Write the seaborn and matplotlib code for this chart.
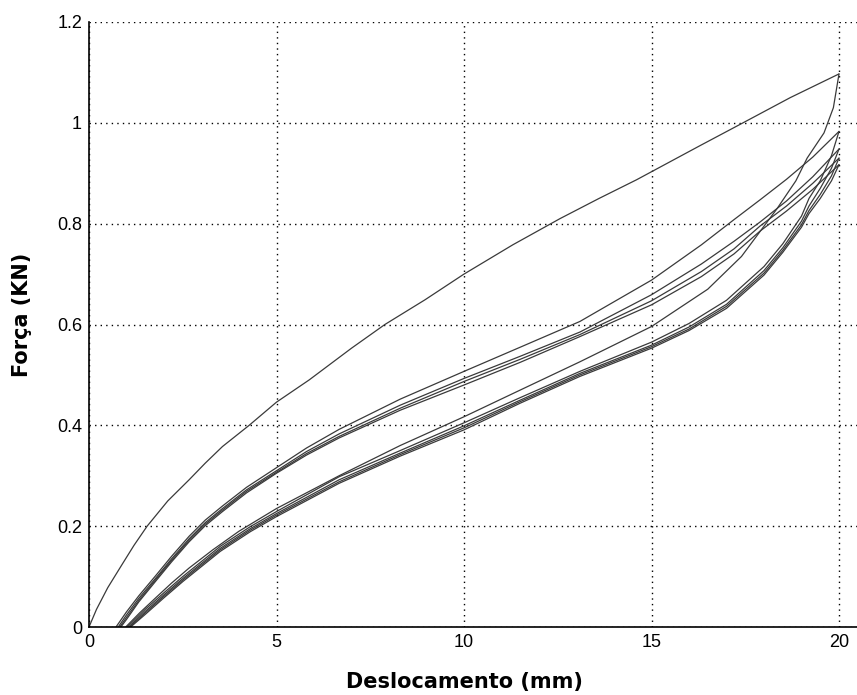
import numpy as np
import pandas as pd
import matplotlib
matplotlib.use("Agg")
import matplotlib.pyplot as plt
import seaborn as sns

# ---- data ----
# virgin loading
L1_x = [0, 0.2, 0.5, 0.89, 1.2, 1.55, 2.1, 2.67, 3.1, 3.56, 4.27, 5.0, 5.87, 7.0, 7.89, 8.96, 10.0, 11.3, 12.56, 13.6, 14.6, 16.3, 17.44, 18.7, 20.0]
L1_y = [0, 0.035, 0.078, 0.125, 0.162, 0.2, 0.25, 0.292, 0.325, 0.358, 0.4, 0.446, 0.49, 0.553, 0.6, 0.649, 0.70, 0.758, 0.81, 0.85, 0.887, 0.955, 1.0, 1.05, 1.097]

# first unloading
U1_x = [20.0, 19.85, 19.6, 19.15, 18.85, 18.35, 18.0, 17.4, 16.5, 15.0, 13.09, 11.5, 10.0, 8.3, 6.67, 5.0, 4.0, 3.3, 2.67, 2.2, 1.78, 1.35, 0.98]
U1_y = [1.097, 1.03, 0.98, 0.93, 0.885, 0.83, 0.795, 0.735, 0.67, 0.596, 0.526, 0.47, 0.417, 0.36, 0.30, 0.235, 0.19, 0.153, 0.117, 0.087, 0.058, 0.028, 0]

# reloading branches
R_x_mid = [1.0, 1.33, 1.78, 2.2, 2.67, 3.1, 3.56, 4.2, 5.0, 5.8, 6.67, 8.3, 10.0, 11.5, 13.09, 15.0, 16.33, 17.2, 17.89, 18.6, 19.3, 20.0]
R_start = [0.72, 0.78, 0.82, 0.85]
L2_y = [0.030, 0.062, 0.102, 0.140, 0.180, 0.212, 0.240, 0.277, 0.316, 0.355, 0.392, 0.452, 0.507, 0.555, 0.606, 0.688, 0.758, 0.808, 0.847, 0.888, 0.932, 0.983]
L3_y = [0.024, 0.057, 0.097, 0.135, 0.175, 0.207, 0.235, 0.272, 0.310, 0.348, 0.383, 0.440, 0.493, 0.537, 0.585, 0.659, 0.720, 0.765, 0.803, 0.845, 0.893, 0.948]
L4_y = [0.019, 0.053, 0.094, 0.132, 0.172, 0.204, 0.232, 0.269, 0.307, 0.344, 0.378, 0.434, 0.487, 0.531, 0.580, 0.647, 0.705, 0.750, 0.795, 0.835, 0.880, 0.930]
L5_y = [0.015, 0.050, 0.091, 0.129, 0.169, 0.201, 0.229, 0.266, 0.305, 0.341, 0.375, 0.430, 0.480, 0.525, 0.576, 0.639, 0.695, 0.740, 0.785, 0.825, 0.868, 0.917]

# later unloading branches
D_x_mid = [20.0, 19.8, 19.5, 19.2, 19.0, 18.5, 18.0, 17.0, 16.0, 15.0, 13.09, 11.5, 10.0, 8.3, 6.67, 5.0, 4.3, 3.5, 3.0, 2.5, 2.0, 1.5]
D_end = [1.02, 1.06, 1.09, 1.11]
U2_y = [0.983, 0.935, 0.885, 0.850, 0.815, 0.760, 0.715, 0.648, 0.602, 0.565, 0.507, 0.455, 0.405, 0.350, 0.298, 0.229, 0.199, 0.160, 0.130, 0.100, 0.068, 0.035]
U3_y = [0.948, 0.910, 0.870, 0.835, 0.805, 0.752, 0.707, 0.640, 0.595, 0.559, 0.503, 0.450, 0.399, 0.345, 0.292, 0.225, 0.195, 0.156, 0.126, 0.096, 0.064, 0.031]
U4_y = [0.930, 0.895, 0.858, 0.826, 0.798, 0.747, 0.702, 0.636, 0.591, 0.556, 0.500, 0.447, 0.395, 0.342, 0.288, 0.222, 0.192, 0.153, 0.123, 0.093, 0.061, 0.028]
U5_y = [0.917, 0.885, 0.850, 0.820, 0.793, 0.743, 0.698, 0.632, 0.588, 0.553, 0.497, 0.444, 0.391, 0.339, 0.285, 0.219, 0.189, 0.150, 0.120, 0.090, 0.058, 0.025]

x_ticks = [0, 5, 10, 15, 20]
y_ticks = [0, 0.2, 0.4, 0.6, 0.8, 1.0, 1.2]
y_tick_labels = ["0", "0.2", "0.4", "0.6", "0.8", "1", "1.2"]
x_label = "Deslocamento (mm)"
y_label = "Força (KN)"

# ---- build long table ----
frames = []
def add(name, xs, ys):
    frames.append(pd.DataFrame({"x": xs, "y": ys, "branch": name}))

add("L1", L1_x, L1_y)
add("U1", U1_x, U1_y)
for i, ys in enumerate([L2_y, L3_y, L4_y, L5_y]):
    add(f"L{i+2}", [R_start[i]] + R_x_mid, [0] + ys)
for i, ys in enumerate([U2_y, U3_y, U4_y, U5_y]):
    add(f"U{i+2}", D_x_mid + [D_end[i]], ys + [0])
df = pd.concat(frames, ignore_index=True)

sns.set_style("white")
plt.rcParams["font.family"] = ["Liberation Sans", "DejaVu Sans"]
plt.rcParams["text.color"] = "black"
plt.rcParams["axes.labelcolor"] = "black"

fig = plt.figure(figsize=(8.57, 6.95), dpi=100)
ax = fig.add_axes([89 / 857, 68 / 695, 1 - 89 / 857, 605 / 695])

sns.lineplot(data=df, x="x", y="y", units="branch", estimator=None, sort=False,
             color="#3a3a3a", linewidth=0.9, ax=ax, legend=False)

ax.set_xlim(0, 20.48)
ax.set_ylim(0, 1.2)
ax.set_xticks(x_ticks)
ax.set_xticklabels([str(t) for t in x_ticks])
ax.set_yticks(y_ticks)
ax.set_yticklabels(y_tick_labels)
ax.tick_params(direction="in", length=5, width=1, colors="black", labelsize=13, pad=5)
ax.grid(True, color="black", linestyle=(0, (1, 3)), linewidth=1.0)
ax.set_axisbelow(True)
for s in ["top", "right"]:
    ax.spines[s].set_visible(False)
for s in ["left", "bottom"]:
    ax.spines[s].set_color("black")
    ax.spines[s].set_linewidth(1.2)

ax.set_xlabel(x_label, fontsize=15, fontweight="bold", family=["DejaVu Sans"], color="black")
ax.set_ylabel(y_label, fontsize=15, fontweight="bold", family=["DejaVu Sans"], color="black")
ax.xaxis.set_label_coords((464 - 89) / 768, -(682 - 627) / 605)
ax.yaxis.set_label_coords(-(89 - 22) / 768, (627 - 315) / 605)
ax.xaxis.label.set_va("center")
ax.yaxis.label.set_va("center")

fig.savefig("out.png", dpi=100)
